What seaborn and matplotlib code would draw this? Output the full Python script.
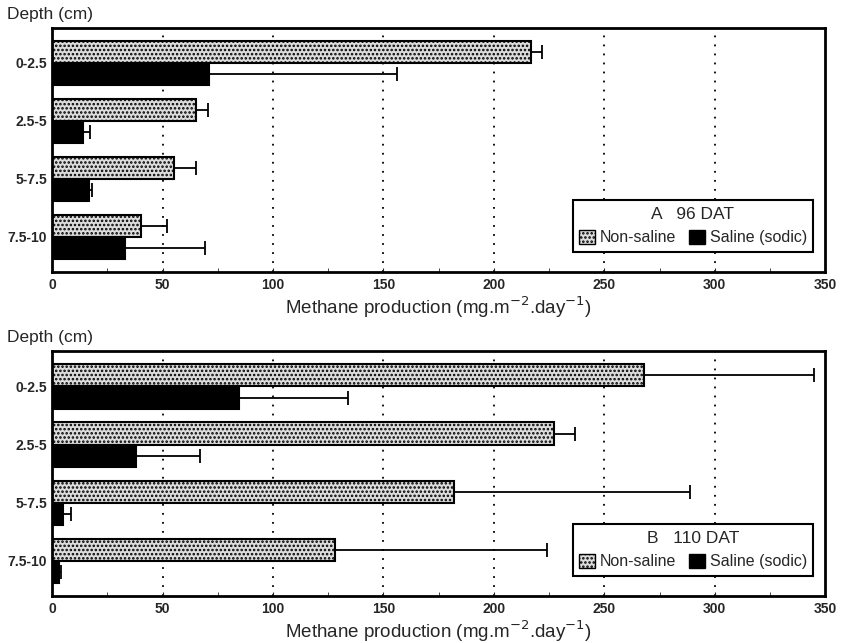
import numpy as np
import pandas as pd
import matplotlib
matplotlib.use("Agg")
import matplotlib.pyplot as plt
import seaborn as sns
from matplotlib.patches import Patch
from matplotlib.ticker import MultipleLocator

depths = ["0-2.5", "2.5-5", "5-7.5", "7.5-10"]
treatments = ["Non-saline", "Saline (sodic)"]

# panel A, 96 DAT
a_nonsaline = [217, 65, 55, 40]
a_nonsaline_err = [5, 5.5, 10, 12]
a_saline = [71, 14, 16.5, 33]
a_saline_err = [85, 3, 1.5, 36]

# panel B, 110 DAT
b_nonsaline = [268, 227, 182, 128]
b_nonsaline_err = [77, 9.5, 107, 96]
b_saline = [84.5, 38, 5, 3]
b_saline_err = [49.5, 29, 3.5, 1]

panels = [
    ("A", "96 DAT", a_nonsaline, a_nonsaline_err, a_saline, a_saline_err),
    ("B", "110 DAT", b_nonsaline, b_nonsaline_err, b_saline, b_saline_err),
]

sns.set_style("white")
plt.rcParams["font.family"] = ["Liberation Sans", "DejaVu Sans"]
plt.rcParams["hatch.linewidth"] = 1.2

fig = plt.figure(figsize=(8.42, 6.43), dpi=100)
axes_pos = [[0.062, 0.577, 0.918, 0.380], [0.062, 0.073, 0.918, 0.381]]
fill_colors = ["#dcdcdc", "black"]

for pos, (letter, dat, ns, ns_err, sa, sa_err) in zip(axes_pos, panels):
    ax = fig.add_axes(pos)
    df = pd.DataFrame({
        "depth": depths * 2,
        "treatment": [treatments[0]] * 4 + [treatments[1]] * 4,
        "value": ns + sa,
    })
    sns.barplot(data=df, x="value", y="depth", hue="treatment", orient="h",
                palette=fill_colors, errorbar=None, width=0.76, legend=False,
                edgecolor="black", linewidth=1.5, ax=ax)

    # stipple texture on non-saline bars
    for bar in ax.containers[0]:
        bar.set_hatch("....")
        if hasattr(bar, "set_hatchcolor"):
            bar.set_hatchcolor("#999999")

    # one-sided error bars at the bar ends
    for cont, errs in zip(ax.containers, [ns_err, sa_err]):
        ys = [bar.get_y() + bar.get_height() / 2 for bar in cont]
        xs = [bar.get_width() for bar in cont]
        ax.errorbar(xs, ys, xerr=[np.zeros(len(errs)), errs], fmt="none",
                    ecolor="black", elinewidth=1.3, capsize=5, capthick=1.3,
                    zorder=1)

    ax.set_xlim(0, 350)
    ax.set_ylim(3.61, -0.61)
    ax.xaxis.set_major_locator(MultipleLocator(50))
    ax.xaxis.set_minor_locator(MultipleLocator(25))
    for gx in range(50, 350, 50):
        ax.axvline(gx, color="black", linestyle=(0, (1, 4)), linewidth=1.3,
                   zorder=0)
    ax.tick_params(axis="x", which="both", direction="in", length=3,
                   labelsize=10, pad=4, bottom=True)
    ax.tick_params(axis="y", which="both", direction="in", length=3,
                   labelsize=10, left=True)
    for lab in ax.get_xticklabels() + ax.get_yticklabels():
        lab.set_fontweight("bold")
    for sp in ax.spines.values():
        sp.set_linewidth(2)
        sp.set_color("black")
    ax.set_ylabel("")
    ax.set_xlabel("Methane production (mg.m$^{-2}$.day$^{-1}$)", fontsize=13.5,
                  labelpad=2)
    ax.text(-0.058, 1.025, "Depth (cm)", transform=ax.transAxes, fontsize=12.5,
            ha="left", va="bottom")

    handles = [Patch(facecolor=fill_colors[0], edgecolor="black", hatch="...."),
               Patch(facecolor=fill_colors[1], edgecolor="black")]
    leg = ax.legend(handles, treatments, title=f"{letter}   {dat}", ncol=2,
                    loc="lower right", bbox_to_anchor=(0.995, 0.05),
                    fontsize=11.5, title_fontsize=12.5, frameon=True,
                    fancybox=False, edgecolor="black", handlelength=1.0,
                    handleheight=1.0, handletextpad=0.3, columnspacing=0.8,
                    borderpad=0.4)
    leg.get_frame().set_linewidth(1.5)
    leg.get_frame().set_alpha(1)

fig.savefig("out.png", dpi=100)
